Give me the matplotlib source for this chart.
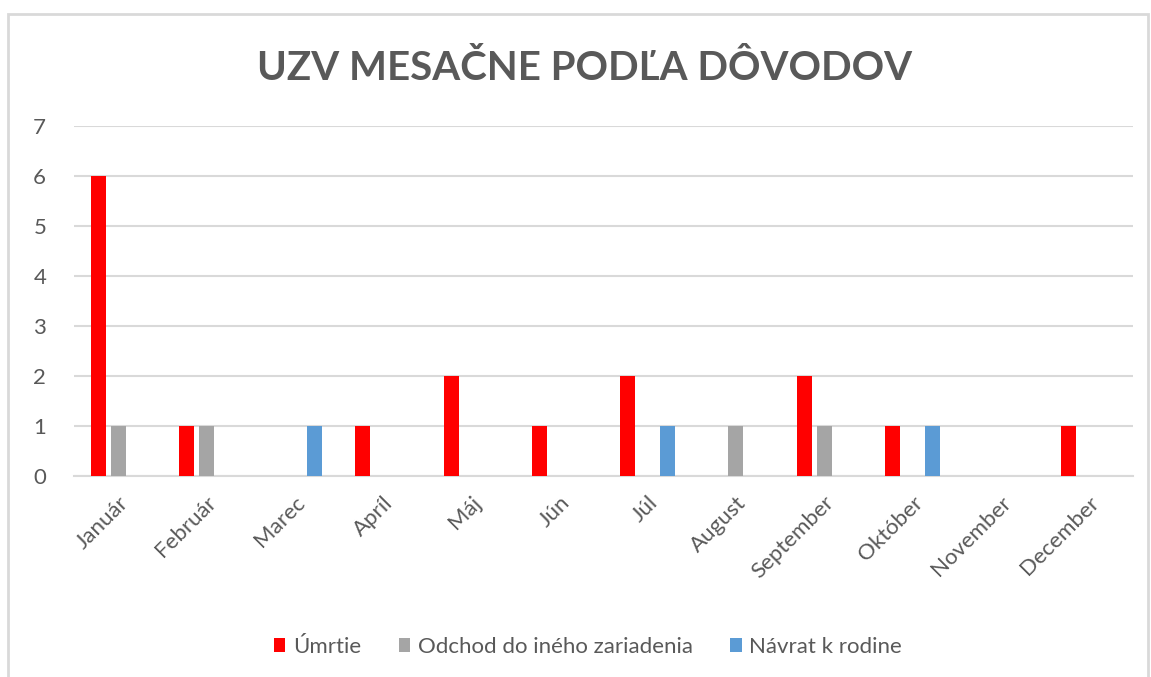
import numpy as np
import matplotlib
matplotlib.use("Agg")
import matplotlib.pyplot as plt
from matplotlib.patches import Rectangle, Patch

months = ["Január", "Február", "Marec", "Apríl", "Máj", "Jún", "Júl",
          "August", "September", "Október", "November", "December"]
umrtie = [6, 1, 0, 1, 2, 1, 2, 0, 2, 1, 0, 1]
odchod = [1, 1, 0, 0, 0, 0, 0, 1, 1, 0, 0, 0]
navrat = [0, 0, 1, 0, 0, 0, 1, 0, 0, 1, 0, 0]
series = ["Úmrtie", "Odchod do iného zariadenia", "Návrat k rodine"]
colors = ["#FF0000", "#A5A5A5", "#5B9BD5"]

plt.rcParams["font.family"] = ["Lato", "DejaVu Sans"]
W, H = 1151, 677
fig = plt.figure(figsize=(W / 100, H / 100), dpi=100)

# chart frame (light gray border, like the Excel chart area)
fig.patches.append(Rectangle((8 / W, -0.05), 1140 / W, 1.05 - 14 / H,
                             transform=fig.transFigure, fill=False,
                             edgecolor="#D9D9D9", lw=2.0))

ax = fig.add_axes([74 / W, 1 - 476 / H, (1133 - 74) / W, 350 / H])
x = np.arange(len(months))
off = 20 / 88
bw = 15 / 88
for i, (vals, c, name) in enumerate(zip([umrtie, odchod, navrat], colors, series)):
    ax.bar(x + (i - 1) * off, vals, width=bw, color=c, label=name, zorder=3)

ax.set_xlim(-0.5, len(months) - 0.5)
ax.set_ylim(0, 7)
ax.set_yticks(range(0, 8))
ax.grid(axis="y", color="#D9D9D9", lw=1.5, zorder=0)
for s in ["top", "right", "left"]:
    ax.spines[s].set_visible(False)
ax.spines["bottom"].set_color("#D9D9D9")
ax.spines["bottom"].set_linewidth(1.5)
ax.tick_params(axis="both", length=0, colors="#595959", labelsize=16)
ax.tick_params(axis="y", pad=20)
ax.set_xticks(x)
ax.set_xticklabels(months, rotation=45, ha="right", rotation_mode="anchor")
ax.tick_params(axis="x", pad=12)

fig.text(585 / W, 1 - 68 / H, "UZV MESAČNE PODĽA DÔVODOV", ha="center",
         va="center", fontsize=29, fontweight="bold", color="#595959")

handles = [Patch(facecolor=c, label=n) for c, n in zip(colors, series)]
fig.legend(handles=handles, loc="center", bbox_to_anchor=(588 / W, 1 - 647 / H),
           ncol=3, frameon=False, fontsize=16, handlelength=0.5, handleheight=0.6,
           handletextpad=0.35, columnspacing=1.7, labelcolor="#595959")

fig.savefig("out.png", dpi=100)
